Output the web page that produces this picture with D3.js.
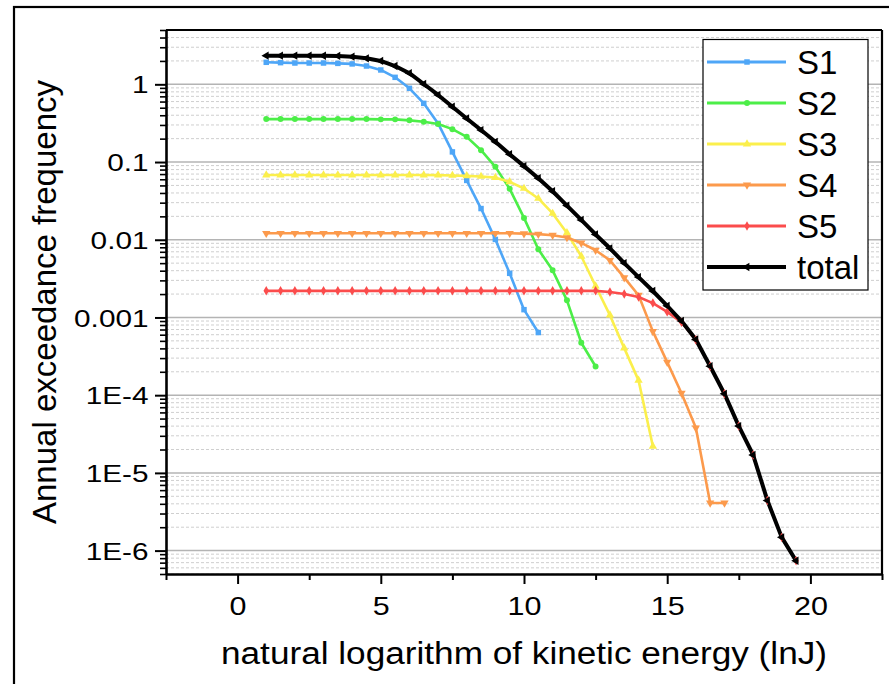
<!DOCTYPE html>
<html>
<head>
<meta charset="utf-8">
<style>
  body { margin: 0; background: #fff; }
  svg { display: block; font-family: "Liberation Sans", Arial, sans-serif; }
  .grid-major { stroke: #b4b4b4; stroke-width: 1.5; }
  .grid-minor { stroke: #cfcfcf; stroke-width: 1; stroke-dasharray: 3,2; }
</style>
<script src="https://d3js.org/d3.v7.min.js"></script>
</head>
<body>
<script>
// values
const lnE = [1, 1.5, 2, 2.5, 3, 3.5, 4, 4.5, 5, 5.5, 6, 6.5, 7, 7.5, 8, 8.5, 9, 9.5, 10, 10.5,
             11, 11.5, 12, 12.5, 13, 13.5, 14, 14.5, 15, 15.5, 16, 16.5, 17, 17.5, 18, 18.5, 19, 19.5];

const s1 = [1.92, 1.90, 1.88, 1.88, 1.88, 1.86, 1.83, 1.72, 1.53, 1.23, 0.888, 0.569, 0.314, 0.135,
            0.058, 0.0252, 0.0101, 0.0037, 0.00126, 0.00064];
const s2 = [0.357, 0.357, 0.357, 0.357, 0.357, 0.357, 0.357, 0.357, 0.354, 0.354, 0.344, 0.330, 0.308,
            0.265, 0.211, 0.142, 0.0867, 0.0452, 0.0191, 0.00755, 0.00404, 0.00166, 0.000473, 0.000234];
const s3 = [0.068, 0.068, 0.068, 0.068, 0.068, 0.068, 0.068, 0.068, 0.068, 0.068, 0.068, 0.068, 0.0678,
            0.0672, 0.0664, 0.0652, 0.063, 0.0556, 0.0457, 0.034, 0.0218, 0.01225, 0.00613, 0.00254,
            0.00107, 0.000403, 0.000155, 2.2e-5];
const s4 = [0.0121, 0.0121, 0.0121, 0.0121, 0.0121, 0.0121, 0.0121, 0.0121, 0.0121, 0.0121, 0.0121,
            0.0121, 0.0121, 0.0121, 0.0121, 0.0121, 0.0121, 0.0121, 0.0120, 0.0118, 0.01143, 0.01067,
            0.0091, 0.00733, 0.00544, 0.00326, 0.00193, 0.000662, 0.000266, 0.000106, 3.8e-5, 4.1e-6, 4.1e-6];
const s5 = [0.0022, 0.0022, 0.0022, 0.0022, 0.0022, 0.0022, 0.0022, 0.0022, 0.0022, 0.0022, 0.0022,
            0.0022, 0.0022, 0.0022, 0.0022, 0.0022, 0.0022, 0.0022, 0.0022, 0.0022, 0.0022, 0.0022,
            0.0022, 0.0022, 0.00213, 0.00200, 0.00183, 0.00153, 0.00118, 0.00087, 0.000518, 0.000236,
            0.000104, 4.0e-5, 1.7e-5, 4.4e-6, 1.48e-6, 7.4e-7];
const total = [2.34, 2.34, 2.34, 2.34, 2.33, 2.32, 2.27, 2.16, 2.0, 1.72, 1.39, 1.01, 0.73, 0.514, 0.364,
               0.258, 0.182, 0.126, 0.0885, 0.0618, 0.0421, 0.0275, 0.018, 0.0117, 0.00776, 0.00501,
               0.00331, 0.00219, 0.00141, 0.0009, 0.00052, 0.000236, 0.000104, 4.0e-5, 1.7e-5, 4.4e-6,
               1.48e-6, 7.4e-7];

const seriesNames = ["S1", "S2", "S3", "S4", "S5", "total"];
const seriesValues = [s1, s2, s3, s4, s5, total];
const seriesColors = ["#4ea6f7", "#4cee48", "#fbef4c", "#fc9a4c", "#fb4c4c", "#000000"];

const xTicks = [0, 5, 10, 15, 20];
const xMinorTicks = [-2.5, 2.5, 7.5, 12.5, 17.5, 22.5];
const yTicks = [1, 0.1, 0.01, 0.001, 1e-4, 1e-5, 1e-6];
const yTickLabels = ["1", "0.1", "0.01", "0.001", "1E-4", "1E-5", "1E-6"];

const xTitle = "natural logarithm of kinetic energy (lnJ)";
const yTitle = "Annual exceedance frequency";

const W = 889, H = 684;
const pLeft = 166, pRight = 882, pTop = 30, pBottom = 574;

const svg = d3.select("body").append("svg")
  .attr("width", W)
  .attr("height", H);

svg.append("rect").attr("width", W).attr("height", H).attr("fill", "#fff");

// outer frame
svg.append("rect")
  .attr("x", 14).attr("y", 7)
  .attr("width", 900).attr("height", 700)
  .attr("fill", "none").attr("stroke", "#000").attr("stroke-width", 2.2);

const x = d3.scaleLinear().domain([-2.5, 22.5]).range([pLeft, pRight]);
const y = d3.scaleLog().domain([5e-7, 5]).range([pBottom, pTop]);

// minor y values 2..9 per decade inside domain
const yMinor = [];
for (let e = -7; e <= 0; e++) {
  for (let m = 2; m <= 9; m++) {
    const v = m * Math.pow(10, e);
    if (v >= 5e-7 && v <= 5) yMinor.push(v);
  }
}

// gridlines
svg.append("g").selectAll("line")
  .data(yMinor.filter(v => v < 5))
  .join("line")
  .attr("class", "grid-minor")
  .attr("x1", pLeft).attr("x2", pRight)
  .attr("y1", d => y(d)).attr("y2", d => y(d));

svg.append("g").selectAll("line")
  .data(yTicks)
  .join("line")
  .attr("class", "grid-major")
  .attr("x1", pLeft).attr("x2", pRight)
  .attr("y1", d => y(d)).attr("y2", d => y(d));

// series lines
const line = d3.line()
  .x((d, i) => x(lnE[i]))
  .y(d => y(d));

const lines = svg.append("g");
seriesValues.forEach((vals, k) => {
  lines.append("path")
    .datum(vals)
    .attr("fill", "none")
    .attr("stroke", seriesColors[k])
    .attr("stroke-width", k === 5 ? 4 : 2.6)
    .attr("stroke-linejoin", "round")
    .attr("d", line);
});

// markers
const symbols = [
  d3.symbol().type(d3.symbolSquare).size(30),
  d3.symbol().type(d3.symbolCircle).size(28),
  d3.symbol().type(d3.symbolTriangle).size(30),
  d3.symbol().type(d3.symbolTriangle).size(30),
  d3.symbol().type(d3.symbolDiamond).size(26),
  d3.symbol().type(d3.symbolTriangle).size(30)
];
const rotations = [0, 0, 0, 180, 0, -90];

const marks = svg.append("g");
seriesValues.forEach((vals, k) => {
  marks.append("g").selectAll("path")
    .data(vals)
    .join("path")
    .attr("d", symbols[k])
    .attr("fill", seriesColors[k])
    .attr("transform", (d, i) => `translate(${x(lnE[i])},${y(d)}) rotate(${rotations[k]})`);
});

// axes
const xAxis = svg.append("g")
  .attr("transform", `translate(0,${pBottom})`)
  .call(d3.axisBottom(x).tickValues(xTicks).tickSize(10).tickSizeOuter(0));
xAxis.select(".domain").attr("stroke-width", 2.6);
xAxis.selectAll(".tick line").attr("stroke-width", 2);
xAxis.selectAll(".tick text")
  .attr("font-size", 25)
  .attr("fill", "#000")
  .attr("y", 41).attr("dy", 0)
  .attr("transform", "scale(1.22,1)");

svg.append("g")
  .attr("transform", `translate(0,${pBottom})`)
  .call(d3.axisBottom(x).tickValues(xMinorTicks).tickSize(6).tickSizeOuter(0).tickFormat(""))
  .call(g => g.select(".domain").remove())
  .selectAll(".tick line").attr("stroke-width", 2);

const yAxis = svg.append("g")
  .attr("transform", `translate(${pLeft},0)`)
  .call(d3.axisLeft(y).tickValues(yTicks).tickSize(11).tickSizeOuter(0)
    .tickFormat((d, i) => yTickLabels[i]));
yAxis.select(".domain").attr("stroke-width", 2.6);
yAxis.selectAll(".tick line").attr("stroke-width", 2);
yAxis.selectAll(".tick text")
  .attr("font-size", 24)
  .attr("fill", "#000")
  .attr("x", -17.5 / 1.24)
  .attr("dy", "0.36em")
  .attr("transform", "scale(1.24,1)");

svg.append("g")
  .attr("transform", `translate(${pLeft},0)`)
  .call(d3.axisLeft(y).tickValues(yMinor).tickSize(6).tickSizeOuter(0).tickFormat(""))
  .call(g => g.select(".domain").remove())
  .selectAll(".tick line").attr("stroke-width", 1.6);

// top and right frame of the plot
svg.append("line").attr("x1", pLeft).attr("x2", pRight).attr("y1", pTop).attr("y2", pTop)
  .attr("stroke", "#000").attr("stroke-width", 2.2);
svg.append("line").attr("x1", pRight).attr("x2", pRight).attr("y1", pTop).attr("y2", pBottom)
  .attr("stroke", "#000").attr("stroke-width", 2.2);

// titles
svg.append("text")
  .attr("x", (pLeft + pRight) / 2).attr("y", 664)
  .attr("text-anchor", "middle")
  .attr("font-size", 31)
  .attr("textLength", 606)
  .attr("lengthAdjust", "spacingAndGlyphs")
  .text(xTitle);

svg.append("text")
  .attr("transform", `translate(56,${(pTop + pBottom) / 2}) rotate(-90)`)
  .attr("text-anchor", "middle")
  .attr("font-size", 33)
  .text(yTitle);

// legend
const lg = svg.append("g");
lg.append("rect")
  .attr("x", 703).attr("y", 39.5)
  .attr("width", 165).attr("height", 250.5)
  .attr("fill", "#fff").attr("stroke", "#000").attr("stroke-width", 1.2);

seriesNames.forEach((name, k) => {
  const ly = 62 + 41 * k;
  lg.append("line")
    .attr("x1", 707).attr("x2", 786).attr("y1", ly).attr("y2", ly)
    .attr("stroke", seriesColors[k]).attr("stroke-width", k === 5 ? 4 : 3);
  lg.append("path")
    .attr("d", symbols[k])
    .attr("fill", seriesColors[k])
    .attr("transform", `translate(747,${ly}) rotate(${rotations[k]})`);
  lg.append("text")
    .attr("x", 797).attr("y", ly + 12)
    .attr("font-size", 33)
    .text(name);
});
</script>
</body>
</html>
